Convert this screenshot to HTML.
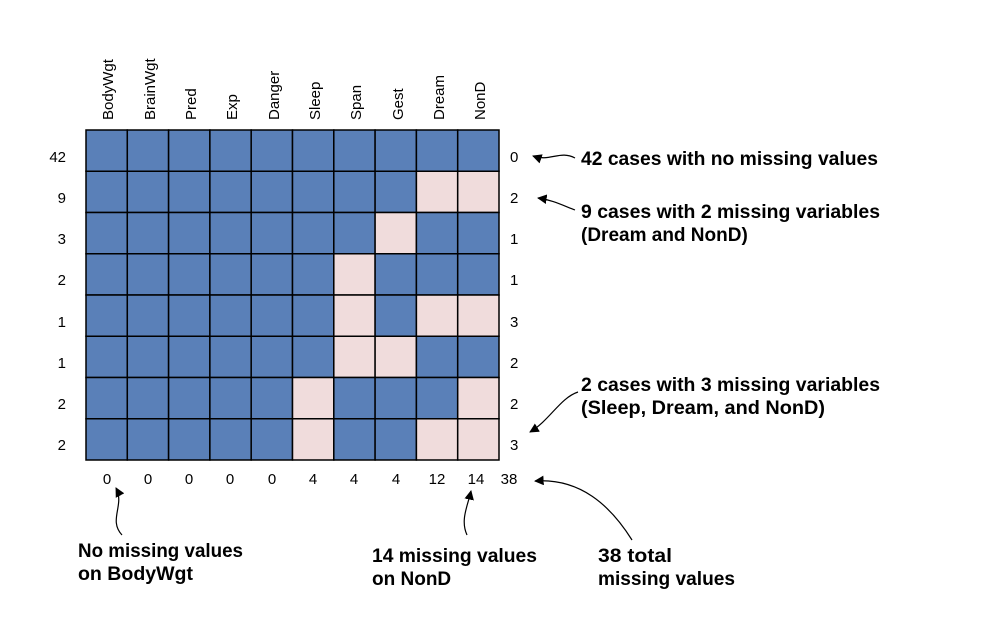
<!DOCTYPE html>
<html><head><style>
body{margin:0;background:#fff;width:990px;height:626px;overflow:hidden}
</style></head><body>
<svg width="990" height="626" xmlns="http://www.w3.org/2000/svg" font-family="Liberation Sans, sans-serif">
<defs><marker id="a" viewBox="0 0 10 10" refX="9" refY="5" markerWidth="8" markerHeight="8" orient="auto"><path d="M0,0 L10,5 L0,10 z" fill="#000"/></marker></defs>
<g id="grid"></g>
<g font-size="15" fill="#000">
<g text-anchor="start">
<text transform="translate(113,120) rotate(-90)">BodyWgt</text>
<text transform="translate(155,120) rotate(-90)">BrainWgt</text>
<text transform="translate(196,120) rotate(-90)">Pred</text>
<text transform="translate(237,120) rotate(-90)">Exp</text>
<text transform="translate(279,120) rotate(-90)">Danger</text>
<text transform="translate(320,120) rotate(-90)">Sleep</text>
<text transform="translate(361,120) rotate(-90)">Span</text>
<text transform="translate(403,120) rotate(-90)">Gest</text>
<text transform="translate(444,120) rotate(-90)">Dream</text>
<text transform="translate(485,120) rotate(-90)">NonD</text>
</g>
<g text-anchor="end">
<text x="66" y="162">42</text><text x="66" y="203">9</text><text x="66" y="244">3</text><text x="66" y="285">2</text>
<text x="66" y="327">1</text><text x="66" y="368">1</text><text x="66" y="409">2</text><text x="66" y="450">2</text>
</g>
<g>
<text x="510" y="162">0</text><text x="510" y="203">2</text><text x="510" y="244">1</text><text x="510" y="285">1</text>
<text x="510" y="327">3</text><text x="510" y="368">2</text><text x="510" y="409">2</text><text x="510" y="450">3</text>
</g>
<g text-anchor="middle">
<text x="107" y="484">0</text><text x="148" y="484">0</text><text x="189" y="484">0</text><text x="230" y="484">0</text>
<text x="272" y="484">0</text><text x="313" y="484">4</text><text x="354" y="484">4</text><text x="396" y="484">4</text>
<text x="437" y="484">12</text><text x="476" y="484">14</text><text x="509" y="484">38</text>
</g>
</g>
<g font-size="19" font-weight="bold" fill="#000">
<text x="581" y="165" textLength="297" lengthAdjust="spacingAndGlyphs">42 cases with no missing values</text>
<text x="581" y="218" textLength="299" lengthAdjust="spacingAndGlyphs">9 cases with 2 missing variables</text>
<text x="581" y="241">(Dream and NonD)</text>
<text x="581" y="391" textLength="299" lengthAdjust="spacingAndGlyphs">2 cases with 3 missing variables</text>
<text x="581" y="414" textLength="244" lengthAdjust="spacingAndGlyphs">(Sleep, Dream, and NonD)</text>
<text x="78" y="557" textLength="165" lengthAdjust="spacingAndGlyphs">No missing values</text>
<text x="78" y="580" textLength="115" lengthAdjust="spacingAndGlyphs">on BodyWgt</text>
<text x="372" y="562" textLength="165" lengthAdjust="spacingAndGlyphs">14 missing values</text>
<text x="372" y="585">on NonD</text>
<text x="598" y="562" textLength="74" lengthAdjust="spacingAndGlyphs">38 total</text>
<text x="598" y="585" textLength="137" lengthAdjust="spacingAndGlyphs">missing values</text>
</g>
<g fill="none" stroke="#000" stroke-width="1.2" marker-end="url(#a)">
<path d="M575,158 C560,150 550,162 533,156"/>
<path d="M575,210 C562,205 552,200 538,198"/>
<path d="M578,392 C560,398 550,420 530,432"/>
<path d="M122,535 C108,520 125,505 116,488"/>
<path d="M467,535 C460,520 468,505 471,491"/>
<path d="M632,540 C610,505 580,478 535,481"/>
</g>
</svg>
<script>
var m=["00000000000","00000000011","00000000100","00000001000","00000001011","00000001100","00000010001","00000010011"];
var g=document.getElementById('grid'),s='';
for(var r=0;r<8;r++)for(var c=0;c<10;c++){var p=m[r][c+1]=='1';
s+='<rect x="'+(86+c*41.3)+'" y="'+(130+r*41.25)+'" width="41.3" height="41.25" fill="'+(p?'#f0dcdc':'#5a80b8')+'" stroke="#000" stroke-width="1.5"/>';}
g.innerHTML=s;
</script>
</body></html>
